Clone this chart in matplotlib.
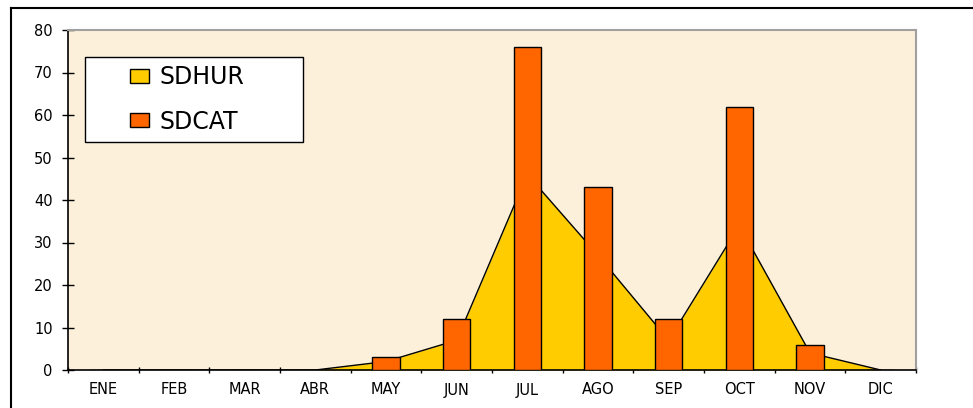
import matplotlib.pyplot as plt
from matplotlib.patches import Rectangle
from matplotlib.lines import Line2D
import numpy as np

# datos
meses = ["ENE", "FEB", "MAR", "ABR", "MAY", "JUN", "JUL", "AGO", "SEP", "OCT", "NOV", "DIC"]
sdhur = [0, 0, 0, 0, 2, 7, 46, 27, 7, 34, 4, 0]
sdcat = [0, 0, 0, 0, 3, 12, 76, 43, 12, 62, 6, 0]

# letra ancha, el original esta estirado en horizontal
plt.rcParams["font.family"] = ["DejaVu Sans"]

fig = plt.figure(figsize=(9.73, 4.08), dpi=100)
fig.patch.set_facecolor("white")
ax = fig.add_axes([68 / 973, 1 - 370 / 408, 848 / 973, 340 / 408])
ax.set_facecolor("#FCF0DA")

x = np.arange(len(meses))
ax.fill_between(x, sdhur, 0, color="#FFCC00", lw=0, zorder=2)
ax.plot(x, sdhur, color="black", lw=1, zorder=3)
ax.bar(x, sdcat, width=0.39, color="#FF6600", edgecolor="black", lw=1, zorder=4)

ax.set_xlim(-0.5, len(meses) - 0.5)
ax.set_ylim(0, 80)
ax.set_yticks(range(0, 81, 10))
ax.set_xticks(np.arange(-0.5, len(meses), 1))
ax.set_xticklabels([])
ax.set_xticks(x, minor=True)
ax.set_xticklabels(meses, minor=True, fontsize=10.5)
ax.tick_params(axis="x", which="major", direction="inout", length=5, width=1)
ax.tick_params(axis="x", which="minor", length=0, pad=9)
ax.tick_params(axis="y", direction="inout", length=8, width=1, pad=7, labelsize=10.5)

for s in ["top", "right"]:
    ax.spines[s].set_color("#A0A0A0")
    ax.spines[s].set_linewidth(1.5)
for s in ["left", "bottom"]:
    ax.spines[s].set_color("black")
    ax.spines[s].set_linewidth(1.2)

# cuadro de la leyenda
ax.add_patch(Rectangle((17 / 848, 228 / 340), 218 / 848, 85 / 340, transform=ax.transAxes,
                       facecolor="white", edgecolor="black", lw=1, zorder=6))
handles = [Rectangle((0, 0), 1, 1, facecolor="#FFCC00", edgecolor="black", lw=1),
           Rectangle((0, 0), 1, 1, facecolor="#FF6600", edgecolor="black", lw=1)]
leg = ax.legend(handles, ["SDHUR", "SDCAT"], loc="center left", frameon=False,
                bbox_to_anchor=(62 / 848, 270.5 / 340), borderpad=0, borderaxespad=0,
                fontsize=17, handlelength=0.8, handleheight=0.5, handletextpad=0.45,
                labelspacing=0.85)
leg.set_zorder(7)

# marco exterior
fig.add_artist(Line2D([11 / 973, 1], [1 - 8 / 408, 1 - 8 / 408], color="black", lw=1.5))
fig.add_artist(Line2D([11 / 973, 11 / 973], [0, 1 - 8 / 408], color="black", lw=1.5))

fig.savefig("out.png", dpi=100)
